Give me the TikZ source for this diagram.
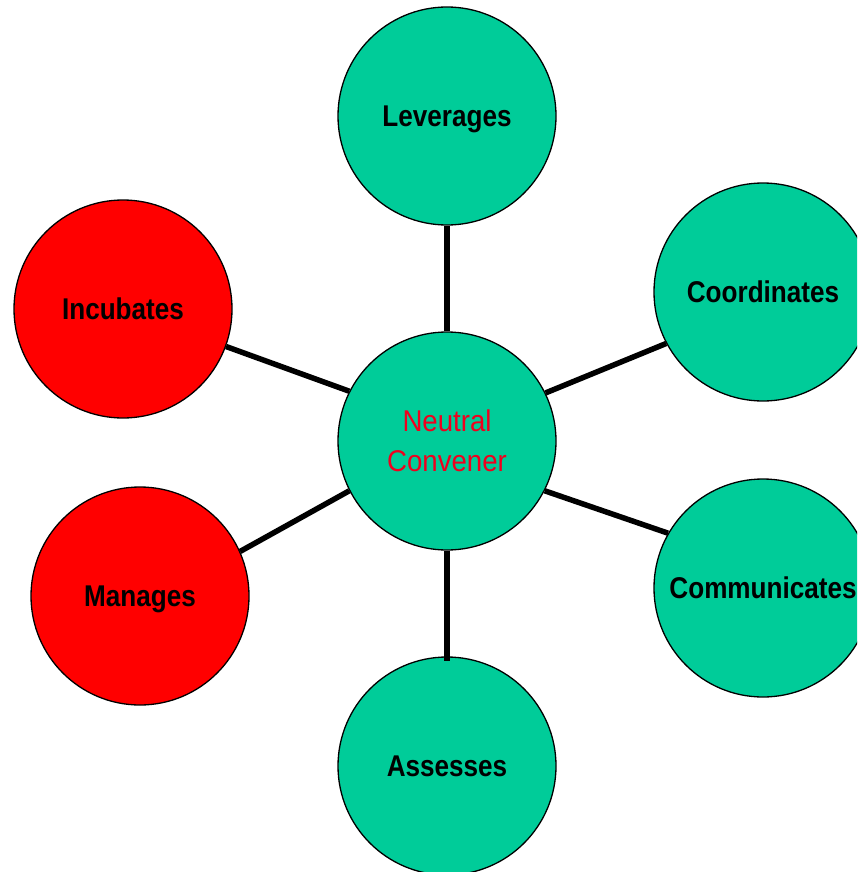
\documentclass[tikz,border=0pt]{standalone}
\usepackage{fontspec}
\newfontfamily\lblfont[FakeStretch=0.87]{Liberation Sans}
\newfontfamily\hubfont[FakeStretch=0.92]{Liberation Sans}
\definecolor{tealgreen}{RGB}{0,204,153}
\definecolor{hotred}{RGB}{255,0,0}
\definecolor{hubtext}{RGB}{240,0,30}
\tikzset{
  bubble/.style={circle, draw=black, line width=1.3pt, minimum size=218pt, inner sep=0pt,
    font=\lblfont\bfseries\fontsize{30}{40}\selectfont, text height=21.5pt, text depth=0pt},
  greenbubble/.style={bubble, fill=tealgreen},
  redbubble/.style={bubble, fill=hotred},
  hub/.style={circle, draw=black, line width=1.3pt, minimum size=218pt, inner sep=0pt, fill=tealgreen,
    font=\hubfont\fontsize{30}{40}\selectfont, text=hubtext, align=center},
  spoke/.style={line width=5.5pt, line cap=butt}
}
\begin{document}
\begin{tikzpicture}[x=1pt,y=-1pt]
\useasboundingbox (0,0) rectangle (857,872);
\clip (0,0) rectangle (857,872);
\node[hub] (nc) at (447,441) {Neutral\\[-0.5pt]Convener};
\node[greenbubble] (lev) at (447,116) {Leverages};
\node[greenbubble] (coo) at (763,292) {Coordinates};
\node[greenbubble] (com) at (763,588) {Communicates};
\node[greenbubble] (ass) at (447,766) {Assesses};
\node[redbubble] (inc) at (123,309) {Incubates};
\node[redbubble] (man) at (140,596) {Manages};
\draw[spoke] (nc.90) -- (lev.270);
\draw[spoke] (nc.153.7) -- (inc.340.6);
\draw[spoke] (nc.26) -- (coo.208.7);
\draw[spoke] (nc.333.4) -- (com.150.7);
\draw[spoke] (nc.207) -- (man.24.2);
\draw[spoke, shorten >=-5pt] (nc.270) -- (ass.90);
\end{tikzpicture}
\end{document}
